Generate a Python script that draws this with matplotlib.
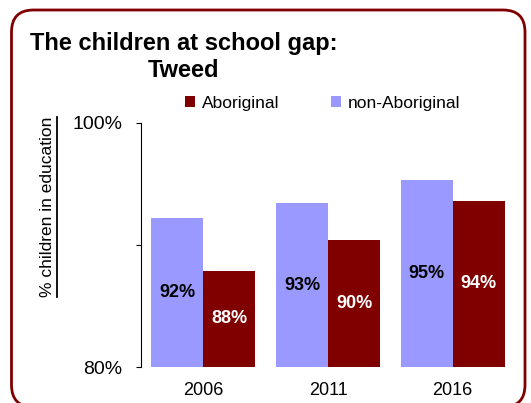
import numpy as np
import matplotlib
matplotlib.use('Agg')
import matplotlib.pyplot as plt
from matplotlib.patches import FancyBboxPatch
from matplotlib.lines import Line2D

plt.rcParams['font.family'] = ['Liberation Sans', 'DejaVu Sans']

years = ['2006', '2011', '2016']
non_aboriginal = [92.2, 93.4, 95.3]
aboriginal = [87.9, 90.4, 93.6]
yticks = [80, 90, 100]
ytick_labels = ['80%', '', '100%']

dark = '#800000'
light = '#9999FF'

fig = plt.figure(figsize=(5.31, 4.03), dpi=100)
ax = fig.add_axes([0.2655, 0.0893, 0.7045, 0.606])

x = np.arange(len(years))
w = 0.418
base = 80
b1 = ax.bar(x - w / 2, [v - base for v in non_aboriginal], w, bottom=base,
            color=light, label='non-Aboriginal')
b2 = ax.bar(x + w / 2, [v - base for v in aboriginal], w, bottom=base,
            color=dark, label='Aboriginal')

ax.bar_label(b1, labels=['%d%%' % round(v) for v in non_aboriginal],
             label_type='center', fontsize=13, fontweight='bold', color='black')
ax.bar_label(b2, labels=['%d%%' % round(v) for v in aboriginal],
             label_type='center', fontsize=13, fontweight='bold', color='white')

ax.set_xlim(-0.5, 2.5)
ax.set_ylim(80, 100)
ax.set_yticks(yticks)
ax.set_yticklabels(ytick_labels, fontsize=14)
ax.set_xticks(x)
ax.set_xticklabels(years, fontsize=13)
ax.tick_params(axis='x', length=0, pad=11)
ax.tick_params(axis='y', length=3.6, pad=10)
for s in ['top', 'right', 'bottom']:
    ax.spines[s].set_visible(False)

handles, labels = ax.get_legend_handles_labels()
fig.legend(handles[::-1], labels[::-1], loc='center left',
           bbox_to_anchor=(185 / 531, 0.743), ncol=2, frameon=False,
           fontsize=12.5, handlelength=0.6, handleheight=0.6,
           handletextpad=0.35, columnspacing=3.0, borderpad=0,
           borderaxespad=0)

fig.text(184 / 531, 0.809, 'The children at school gap:\nTweed',
         ha='center', va='baseline', multialignment='center',
         fontsize=17, fontweight='bold')

ylab = fig.text(48 / 531, 0.486, '% children in education',
                rotation=90, ha='center', va='center', fontsize=12.5)

# underline for the rotated y label
fig.canvas.draw()
bb = ylab.get_window_extent().transformed(fig.transFigure.inverted())
ux = bb.x1 + 1.5 / 531
fig.add_artist(Line2D([ux, ux], [bb.y0, bb.y1], color='black', lw=1.3,
                      transform=fig.transFigure))

box = FancyBboxPatch((0.115, -0.04), 5.135, 3.97,
                     boxstyle='round,pad=0,rounding_size=0.22',
                     transform=fig.dpi_scale_trans, fill=False,
                     edgecolor=dark, linewidth=2)
fig.add_artist(box)

fig.savefig('out.png', dpi=100)
